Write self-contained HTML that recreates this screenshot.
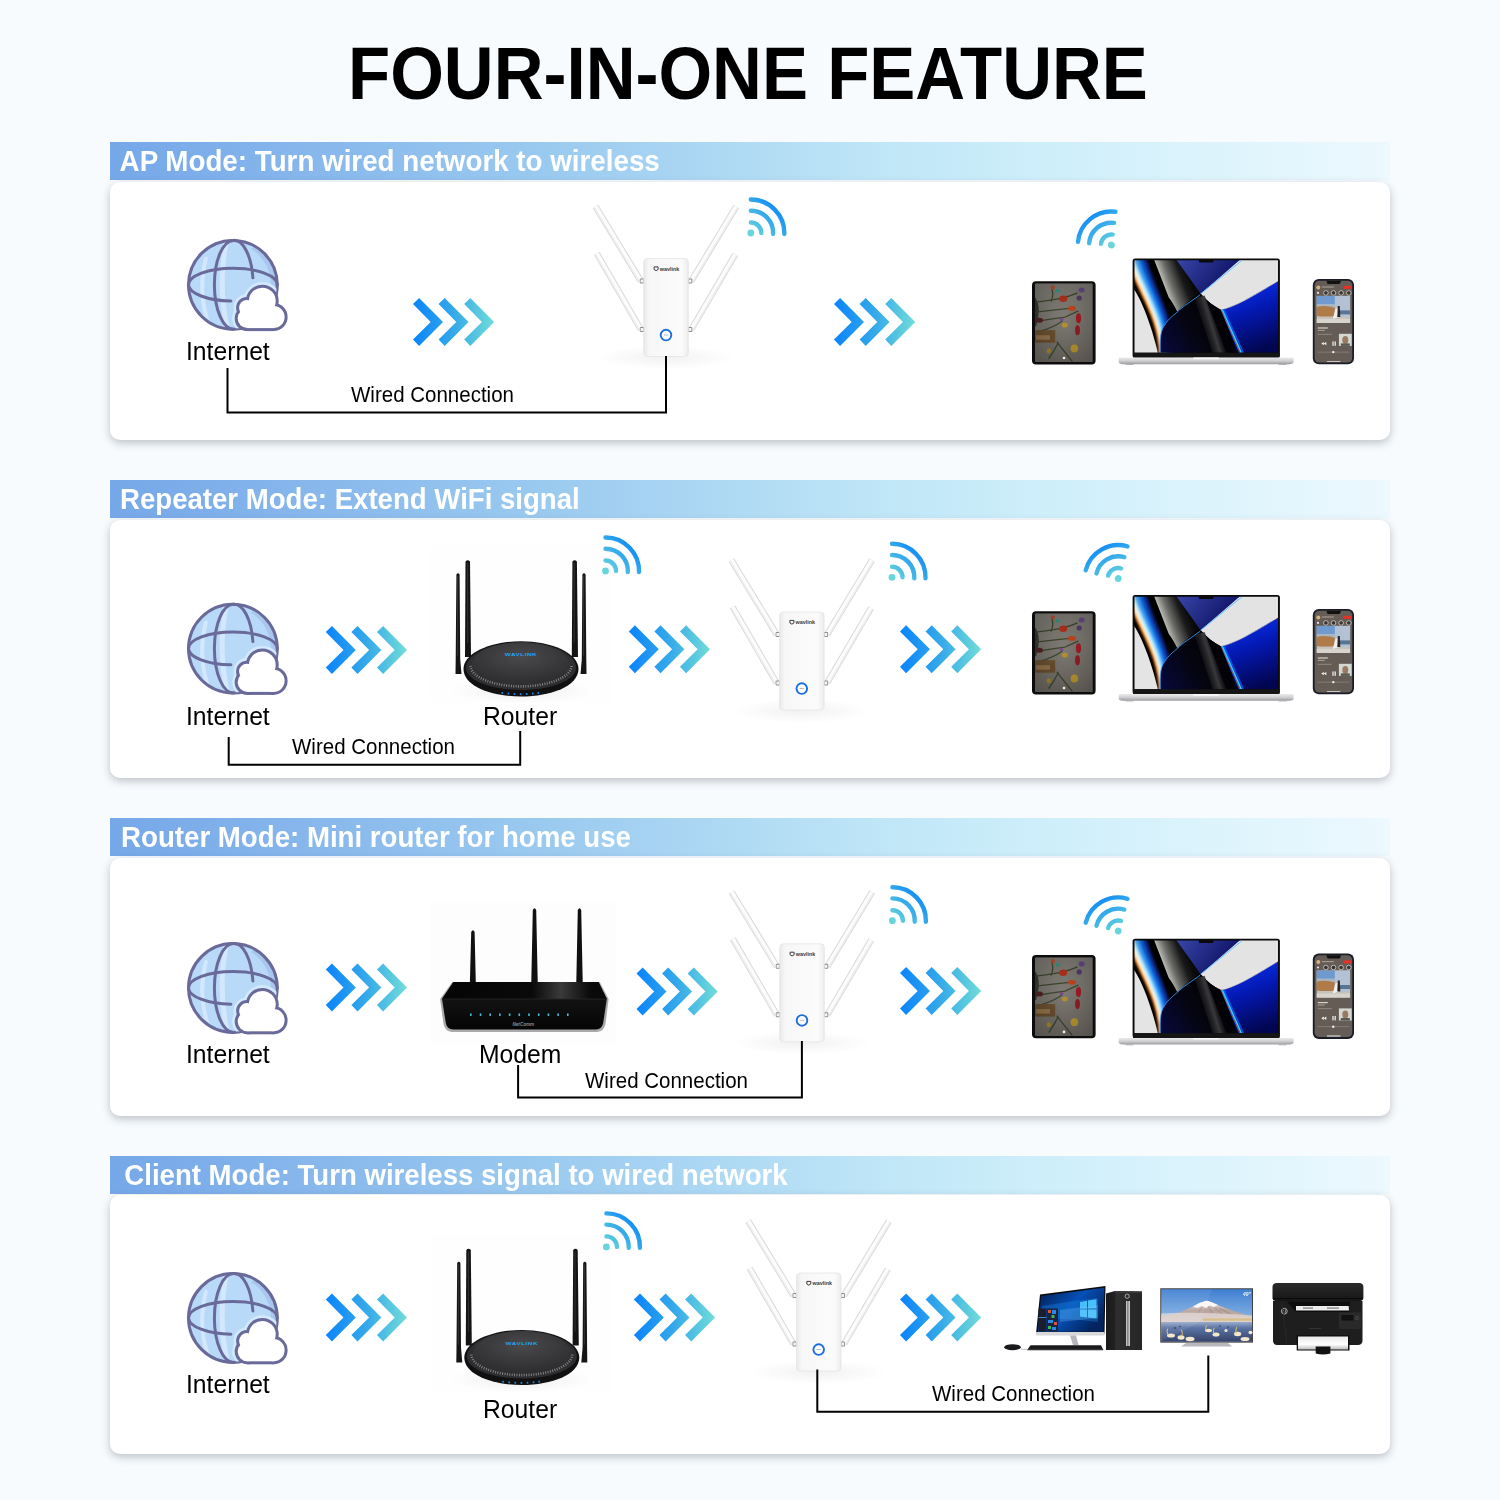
<!DOCTYPE html>
<html><head><meta charset="utf-8">
<style>
html,body{margin:0;padding:0;}
body{width:1500px;height:1500px;position:relative;overflow:hidden;background:#f7fbfe;font-family:"Liberation Sans",sans-serif;}
.t{position:absolute;white-space:nowrap;line-height:1;transform-origin:0 0;}
.title{font-size:69px;font-weight:bold;color:#000;left:348px;top:37px;transform:scaleY(1.068);}
.bar{position:absolute;left:110px;width:1280px;height:38px;background:linear-gradient(90deg,#76a7e8 0%,#9ccbf0 35%,#bfe6f7 60%,#cdeefa 72%,#ecf9fe 100%);}
.card{position:absolute;left:110px;width:1280px;height:258px;background:#fff;border-radius:10px;box-shadow:0 3px 8px rgba(55,62,70,0.3);}
.hd{font-size:27.75px;font-weight:bold;color:#fff;transform:scaleY(1.05);}
.lb{font-size:24.7px;color:#000;transform:scaleY(1.04);}
.wc{font-size:20.5px;color:#000;transform:scaleY(1.04);}
svg{position:absolute;left:0;top:0;}
</style></head>
<body>
<div class="t title">FOUR-IN-ONE FEATURE</div>

<div class="bar" style="top:142px"></div>
<div class="card" style="top:182px"></div>
<div class="bar" style="top:480px"></div>
<div class="card" style="top:520px"></div>
<div class="bar" style="top:818px"></div>
<div class="card" style="top:858px"></div>
<div class="bar" style="top:1156px"></div>
<div class="card" style="top:1195px;height:259px"></div>

<svg width="1500" height="1500" viewBox="0 0 1500 1500">
<defs>
  <linearGradient id="chev" gradientUnits="userSpaceOnUse" x1="0" y1="0" x2="81" y2="0">
    <stop offset="0" stop-color="#0a84fb"/><stop offset="0.5" stop-color="#35a9ea"/><stop offset="1" stop-color="#70dcd8"/>
  </linearGradient>
  <linearGradient id="wifiR" gradientUnits="userSpaceOnUse" x1="0" y1="0" x2="28" y2="-28">
    <stop offset="0" stop-color="#6cd8da"/><stop offset="1" stop-color="#0a86f8"/>
  </linearGradient>
  <symbol id="chevs" viewBox="0 0 82 48" overflow="visible">
    <g fill="url(#chev)">
      <path d="M0 6.1 L6.1 0 L30 24 L6.1 48 L0 41.5 L17.7 24 Z"/>
      <path d="M25.6 6.1 L31.7 0 L55.6 24 L31.7 48 L25.6 41.5 L43.3 24 Z"/>
      <path d="M51.2 6.1 L57.3 0 L81.2 24 L57.3 48 L51.2 41.5 L68.9 24 Z"/>
    </g>
  </symbol>
  <g id="wifi">
    <g fill="none" stroke="url(#wifiR)" stroke-width="4.4" stroke-linecap="round">
      <path d="M0 -10.5 A10.5 10.5 0 0 1 10.5 0"/>
      <path d="M0 -22.3 A22.3 22.3 0 0 1 22.3 1"/>
      <path d="M0 -33.5 A33.5 33.5 0 0 1 33.5 1"/>
    </g>
    <circle cx="0" cy="0" r="3.4" fill="#68d4dc"/>
  </g>
  <clipPath id="globeClip"><circle cx="232.9" cy="284.8" r="44"/></clipPath>
  <g id="globe">
    <circle cx="0" cy="0" r="44.4" fill="#b9d9f8"/>
    <g fill="none" stroke="#d3e8fc" stroke-linecap="round">
      <path d="M-27 -26 Q-35 4 -26 34" stroke-width="4"/>
      <path d="M-7 -41 Q-15 0 -6 42" stroke-width="5"/>
    </g>
    <path d="M22 -38.5 A44.4 44.4 0 0 1 44.4 2 L38 2 A40 42 0 0 0 18 -36Z" fill="#a9c7ee"/>
    <g fill="none" stroke="#6a6a9a" stroke-width="3" stroke-linecap="round">
      <circle cx="0" cy="0" r="44.4"/>
      <path d="M-44.4 0 A44.4 16.5 0 0 1 44.4 0"/>
      <path d="M-44.4 0 A44.4 16.5 0 0 0 -2 16.2"/>
      <path d="M0.5 -44.4 A19 44.4 0 0 0 0.5 44.4"/>
      <path d="M0.5 -44.4 A19 44.4 0 0 1 20 -7"/>
    </g>
    <g transform="translate(-232.9,-284.8)">
      <g fill="#d3eafd" clip-path="url(#globeClip)">
        <circle cx="262.3" cy="301.1" r="19"/><circle cx="246.9" cy="307.7" r="13.4"/><circle cx="247.4" cy="318.4" r="15.2"/><circle cx="273.5" cy="317" r="16.6"/><rect x="247" y="305" width="27" height="28.6"/>
      </g>
      <g fill="#6a6a9a">
        <circle cx="262.3" cy="301.1" r="16.4"/><circle cx="246.9" cy="307.7" r="10.8"/><circle cx="247.4" cy="318.4" r="12.7"/><circle cx="273.5" cy="317" r="14.1"/><rect x="247" y="305" width="27" height="26.1"/>
      </g>
      <g fill="#fff">
        <circle cx="262.3" cy="301.1" r="13.4"/><circle cx="246.9" cy="307.7" r="7.8"/><circle cx="247.4" cy="318.4" r="9.7"/><circle cx="273.5" cy="317" r="11.1"/><rect x="247" y="305" width="27" height="23.1"/>
      </g>
    </g>
  </g>
  <!-- ===== EXTENDER (origin = body top-left) ===== -->
  <linearGradient id="extBody" x1="0" y1="0" x2="1" y2="0">
    <stop offset="0" stop-color="#e9e9ea"/><stop offset="0.12" stop-color="#f7f7f8"/><stop offset="0.85" stop-color="#fbfbfb"/><stop offset="1" stop-color="#ececed"/>
  </linearGradient>
  <radialGradient id="softShadow" cx="0.5" cy="0.5" r="0.5">
    <stop offset="0" stop-color="#000" stop-opacity="0.09"/><stop offset="1" stop-color="#000" stop-opacity="0"/>
  </radialGradient>
  <g id="ext">
    <ellipse cx="22" cy="99" rx="70" ry="12" fill="url(#softShadow)" opacity="0.6"/>
    <g stroke-linecap="butt" fill="none">
      <g stroke="#d9d9db" stroke-width="6.4">
        <path d="M-48.3 -52 L-3 22.5"/><path d="M-47 -5 L-3 71"/>
        <path d="M92.5 -52 L47.5 22.5"/><path d="M91.5 -4 L47.5 71"/>
      </g>
      <g stroke="#fcfcfc" stroke-width="4.4">
        <path d="M-48.3 -52 L-3 22.5"/><path d="M-47 -5 L-3 71"/>
        <path d="M92.5 -52 L47.5 22.5"/><path d="M91.5 -4 L47.5 71"/>
      </g>
      <g stroke="#ececee" stroke-width="1.3">
        <path d="M-49.6 -51 L-4.6 23"/><path d="M-48.3 -4 L-4.6 71.5"/>
        <path d="M93.8 -51 L49.1 23"/><path d="M92.8 -3 L49.1 71.5"/>
      </g>
    </g>
    <g fill="#8e8e90">
      <rect x="-4" y="20" width="4.5" height="5" rx="1"/><rect x="-4" y="68.5" width="4.5" height="5" rx="1"/>
      <rect x="44" y="20" width="4.5" height="5" rx="1"/><rect x="44" y="68.5" width="4.5" height="5" rx="1"/>
    </g>
    <g fill="#f4f4f4">
      <rect x="-3.2" y="21" width="2.6" height="3"/><rect x="-3.2" y="69.5" width="2.6" height="3"/>
      <rect x="45" y="21" width="2.6" height="3"/><rect x="45" y="69.5" width="2.6" height="3"/>
    </g>
    <rect x="0" y="0" width="44.5" height="98" rx="3.5" fill="url(#extBody)" stroke="#e4e4e6" stroke-width="0.8"/>
    <circle cx="22.2" cy="76.6" r="5.3" fill="#fff" stroke="#1b6ee2" stroke-width="1.9"/>
    <rect x="20" y="76" width="4.4" height="1" fill="#b8b8bc"/>
    <path d="M10.3 8.4 L14.3 8.4 L14.3 11 Q12.3 13.3 10.3 11 Z" fill="none" stroke="#3a3a3a" stroke-width="1"/>
    <text x="16" y="12" font-family="Liberation Sans" font-weight="bold" font-size="5.4" fill="#3a3a3a">wavlink</text>
  </g>

  <!-- ===== ROUND ROUTER (origin = dome top-center) ===== -->
  <linearGradient id="antBlack" x1="0" y1="0" x2="1" y2="0">
    <stop offset="0" stop-color="#0e0e0e"/><stop offset="0.45" stop-color="#2c2c2c"/><stop offset="1" stop-color="#0b0b0b"/>
  </linearGradient>
  <radialGradient id="domeTop" cx="0.5" cy="0.35" r="0.6">
    <stop offset="0" stop-color="#4a4a4c"/><stop offset="1" stop-color="#303032"/>
  </radialGradient>
  <g id="router">
    <rect x="-91" y="-95" width="181" height="157" fill="#f5f5f5" opacity="0.15"/>
    <ellipse cx="0" cy="50" rx="72" ry="13" fill="url(#softShadow)" opacity="0.7"/>
    <g fill="#141414">
      <path d="M-56 16 L-55.5 -79.5 Q-53.3 -82 -51 -79.5 L-50 16Z"/>
      <path d="M50.8 16 L51.4 -79.5 Q53.6 -82 55.9 -79.5 L57 16Z"/>
    </g>
    <path d="M-57.5 28 C-57.5 12 -30 0.3 0 0.3 C30 0.3 57.5 12 57.5 28 C57.5 45 30 55.5 0 55.5 C-30 55.5 -57.5 45 -57.5 28Z" fill="#111112"/>
    <path d="M-55 27 C-55 12 -28 1.2 0 1.2 C28 1.2 55 12 55 27 C55 40 28 49 0 49 C-28 49 -55 40 -55 27Z" fill="#2e2e30"/>
    <path d="M-49 24 C-49 11 -26 1.5 0 1.5 C26 1.5 49 11 49 24 C49 35 26 42.5 0 42.5 C-26 42.5 -49 35 -49 24Z" fill="url(#domeTop)"/>
    <path d="M-50.5 25 C-50 37 -26 45.5 0 45.5 C26 45.5 50 37 50.5 25" fill="none" stroke="#8a8a8c" stroke-width="2.6" stroke-dasharray="0.9 1.5"/>
    <text x="0" y="0" text-anchor="middle" font-family="Liberation Sans" font-weight="bold" font-size="6.4" letter-spacing="0.5" fill="#1fa2f4" transform="translate(0,15.2) scale(1,0.5)">WAVLINK</text>
    <g fill="#1b8ff5">
      <rect x="-19.5" y="51.2" width="1.6" height="1.8"/><rect x="-13.4" y="51.8" width="1.6" height="1.8"/><rect x="-7.3" y="52.2" width="1.6" height="1.8"/><rect x="-1.2" y="52.4" width="1.6" height="1.8"/><rect x="4.9" y="52.2" width="1.6" height="1.8"/><rect x="11" y="51.8" width="1.6" height="1.8"/><rect x="16.5" y="51.2" width="1.6" height="1.8"/>
    </g>
    <g fill="#151515">
      <path d="M-65.5 33 L-65.3 18 L-64.6 -66.5 Q-63 -69 -61.4 -66.5 L-60.8 18 L-59.5 33Z"/>
      <path d="M59.5 33 L60.8 18 L61.4 -66.5 Q63 -69 64.6 -66.5 L65.3 18 L65.5 33Z"/>
    </g>
    <g fill="#2e2e2e">
      <rect x="-64" y="-65" width="1.2" height="80"/><rect x="62" y="-65" width="1.2" height="80"/>
      <rect x="-54" y="-78" width="1.2" height="80"/><rect x="52.6" y="-78" width="1.2" height="80"/>
    </g>
  </g>

  <!-- ===== MODEM (absolute coords section 3) ===== -->
  <linearGradient id="modemFront" x1="0" y1="0" x2="0" y2="1">
    <stop offset="0" stop-color="#1a1a1a"/><stop offset="1" stop-color="#050505"/>
  </linearGradient>
  <linearGradient id="modemTop" x1="0" y1="0" x2="1" y2="0">
    <stop offset="0" stop-color="#050505"/><stop offset="0.55" stop-color="#0a0a0a"/><stop offset="0.72" stop-color="#3a3a3a"/><stop offset="0.9" stop-color="#0a0a0a"/>
  </linearGradient>
  <g id="modem">
    <rect x="430" y="903" width="186" height="140" fill="#f5f5f5" opacity="0.2"/>
    <g fill="#101010">
      <path d="M469.9 982 L471.2 932 Q473 928.5 474.6 932 L475.8 982Z"/>
      <path d="M531.3 982 L532.8 910 Q534.5 906.5 536.2 910 L537.7 982Z"/>
      <path d="M576.3 982 L577.8 910 Q579.5 906.5 581.2 910 L582.7 982Z"/>
    </g>
    <path d="M452.2 982 L599.7 982 L608.6 999 L605.5 1024 Q604 1031.5 597 1032 L452 1032 Q445 1031.5 443.5 1024 L440.1 999 Z" fill="#a9a9ab"/>
    <path d="M453.5 982 L598.5 982 L606.8 999 L603.2 1023 Q602 1029 596 1029.5 L453 1029.5 Q447 1029 445.8 1023 L442 999 Z" fill="url(#modemFront)"/>
    <path d="M453.5 982 L598.5 982 L606.8 999 L442 999 Z" fill="url(#modemTop)"/>
    <path d="M442 999 L606.8 999" stroke="#2a2a2a" stroke-width="0.8"/>
    <g fill="#44c6e6">
      <rect x="470" y="1013.5" width="1.6" height="2.4"/><rect x="479.7" y="1013.5" width="1.6" height="2.4"/><rect x="489.4" y="1013.5" width="1.6" height="2.4"/><rect x="499.1" y="1013.5" width="1.6" height="2.4"/><rect x="508.8" y="1013.5" width="1.6" height="2.4"/><rect x="518.5" y="1013.5" width="1.6" height="2.4"/><rect x="528.2" y="1013.5" width="1.6" height="2.4"/><rect x="537.9" y="1013.5" width="1.6" height="2.4"/><rect x="547.6" y="1013.5" width="1.6" height="2.4"/><rect x="557.3" y="1013.5" width="1.6" height="2.4"/><rect x="567" y="1013.5" width="1.6" height="2.4"/>
    </g>
    <text x="512.5" y="1026" font-family="Liberation Sans" font-weight="bold" font-style="italic" font-size="4.6" fill="#8a8a8a">NetComm</text>
  </g>
  <!-- ===== TABLET (origin top-left, 64x83) ===== -->
  <linearGradient id="tabScr" x1="0" y1="0" x2="0" y2="1">
    <stop offset="0" stop-color="#86837c"/><stop offset="0.5" stop-color="#7e7a73"/><stop offset="1" stop-color="#77736c"/>
  </linearGradient>
  <radialGradient id="tabVig" cx="0.5" cy="0.45" r="0.7">
    <stop offset="0" stop-color="#000" stop-opacity="0"/><stop offset="1" stop-color="#000" stop-opacity="0.28"/>
  </radialGradient>
  <filter id="tabBlur" x="-10%" y="-10%" width="120%" height="120%"><feGaussianBlur stdDeviation="0.45"/></filter>
  <g id="tablet">
    <rect x="0" y="0" width="63.6" height="83.2" rx="4" fill="#0c0c0c"/>
    <rect x="3" y="2.4" width="57.6" height="78.4" rx="1" fill="url(#tabScr)"/>
    <g filter="url(#tabBlur)">
      <path d="M3 16 Q10 26 4 45 L3 45Z" fill="#3a3a34"/>
      <g stroke-linecap="round" fill="none" stroke-width="1.3" stroke="#3f4a30">
        <path d="M4 21 Q20 19 30 17 Q38 15 45 12"/>
        <path d="M4 31 Q20 29 40 27"/>
        <path d="M6 40 Q18 38 33 36 L46 30"/>
        <path d="M20 8 Q22 14 19 20"/>
        <path d="M25 61 Q32 70 40 80"/>
        <path d="M26 62 Q22 70 17 77"/>
        <path d="M8 50 Q22 46 30 40"/>
      </g>
      <ellipse cx="20.8" cy="6.4" rx="2" ry="2.4" fill="#c0502a"/>
      <ellipse cx="25.6" cy="9.6" rx="2.4" ry="1.8" fill="#2aa08a"/>
      <ellipse cx="31.2" cy="17.6" rx="4" ry="3.2" fill="#b8321e"/>
      <ellipse cx="49.6" cy="8.8" rx="3" ry="2.6" fill="#6e4e8e"/>
      <ellipse cx="47.2" cy="16.8" rx="2.6" ry="2.6" fill="#5a3e70"/>
      <ellipse cx="40" cy="27.2" rx="4" ry="2.4" fill="#c8461c"/>
      <ellipse cx="46.5" cy="37" rx="2.6" ry="5" fill="#a81c28"/>
      <ellipse cx="45.5" cy="49" rx="2.4" ry="5" fill="#9a1a26"/>
      <ellipse cx="29.6" cy="38.4" rx="2" ry="1.6" fill="#7a4a90"/>
      <ellipse cx="32.8" cy="44" rx="3" ry="2.4" fill="#b89230"/>
      <ellipse cx="7.5" cy="39" rx="3.5" ry="2.5" fill="#5a2222"/>
      <rect x="3.2" y="49" width="20" height="12.5" fill="#6e5230"/>
      <rect x="4" y="54" width="14" height="4.5" fill="#9a7850"/>
      <ellipse cx="42.4" cy="67.2" rx="3.8" ry="4" fill="#c8a030"/>
      <ellipse cx="16.8" cy="69.6" rx="2.2" ry="2.6" fill="#b09028"/>
    </g>
    <rect x="3" y="2.4" width="57.6" height="78.4" rx="1" fill="url(#tabVig)"/>
    <circle cx="32" cy="76.8" r="1.3" fill="#f2f2f2"/>
  </g>

  <!-- ===== LAPTOP (origin screen top-left) ===== -->
  <linearGradient id="lpTopBlue" x1="0" y1="0" x2="1" y2="0.4">
    <stop offset="0" stop-color="#3848a8"/><stop offset="1" stop-color="#0d0f62"/>
  </linearGradient>
  <linearGradient id="lpWedge" gradientUnits="userSpaceOnUse" x1="22" y1="8" x2="48" y2="-2">
    <stop offset="0" stop-color="#d0d0c8"/><stop offset="0.35" stop-color="#6a6a66"/><stop offset="0.75" stop-color="#1a1a1a"/><stop offset="1" stop-color="#0a0a0a"/>
  </linearGradient>
  <linearGradient id="lpBR" x1="0" y1="0" x2="0.3" y2="1">
    <stop offset="0" stop-color="#0a38ff"/><stop offset="0.5" stop-color="#0418b0"/><stop offset="1" stop-color="#020650"/>
  </linearGradient>
  <linearGradient id="lpCenter" gradientUnits="userSpaceOnUse" x1="30" y1="90" x2="100" y2="50">
    <stop offset="0" stop-color="#07083a"/><stop offset="0.45" stop-color="#050510"/><stop offset="1" stop-color="#000"/>
  </linearGradient>
  <linearGradient id="lpRidge" gradientUnits="userSpaceOnUse" x1="60" y1="60" x2="86" y2="52">
    <stop offset="0" stop-color="#000" stop-opacity="0"/><stop offset="0.6" stop-color="#3a3a3c"/><stop offset="1" stop-color="#000" stop-opacity="0"/>
  </linearGradient>
  <linearGradient id="lpBase" x1="0" y1="0" x2="0" y2="1">
    <stop offset="0" stop-color="#ececed"/><stop offset="0.5" stop-color="#cfcfd2"/><stop offset="1" stop-color="#9c9ca0"/>
  </linearGradient>
  <filter id="lpBlur" x="-20%" y="-20%" width="140%" height="140%"><feGaussianBlur stdDeviation="0.9"/></filter>
  <clipPath id="lpClip"><rect x="1.9" y="1.76" width="143.5" height="92.6"/></clipPath>
  <g id="laptop">
    <rect x="0" y="0" width="147.3" height="99.3" rx="2.5" fill="#0a0a0a"/>
    <g clip-path="url(#lpClip)">
      <rect x="0" y="0" width="150" height="100" fill="#000"/>
      <g fill="none" filter="url(#lpBlur)">
        <path d="M-6.0 -2.1 C2.9 30.5 28.2 58.1 27.2 100" stroke="#e8701e" stroke-width="2.4"/>
        <path d="M-4.4 -2.1 C4.5 30.5 29.7 58.1 28.4 100" stroke="#ffc860" stroke-width="2.4"/>
        <path d="M-2.6 -2.1 C6.3 30.5 31.2 58.1 29.6 100" stroke="#fff8ea" stroke-width="2.6"/>
        <path d="M0.0 -2.1 C8.9 30.5 33.2 58.1 31.2 100" stroke="#a8eaff" stroke-width="3"/>
        <path d="M4.0 -2.1 C12.4 30.5 36.2 58.1 33.7 100" stroke="#2e9cff" stroke-width="3.6"/>
        <path d="M8.0 -2.1 C15.9 30.5 39.2 58.1 36.2 100" stroke="#0a58d0" stroke-width="3.6"/>
        <path d="M12.0 -2.1 C19.4 30.5 42.2 58.1 38.7 100" stroke="#08207a" stroke-width="3.4"/>
      </g>
      <path d="M42.5 0 L109 0 L109 2.1 L68.1 35.4 L66.7 33.7 Z" fill="url(#lpTopBlue)"/>
      <path d="M21 0 L42.5 0 L66.7 33.7 L44.6 53.1 Q40 44 36.2 39.2 Q28 18 21 0Z" fill="url(#lpWedge)"/>
      <path d="M109 0 L150 0 L150 22.5 L145.4 22.5 C122.8 36.4 102 48.9 88.2 51.3 C81.3 48.2 74.3 42.6 68.1 35.4 Z" fill="#e3e3e4"/>
      <path d="M109.5 1.8 L67.8 35.6" stroke="#5cc4ff" stroke-width="1"/>
      <path d="M88.2 51.3 C102 48.9 122.8 36.4 145.4 22.5 L150 22.5 L150 100 L106.9 100 Z" fill="url(#lpBR)"/>
      <path d="M145.4 22.5 C122.8 36.4 102 48.9 88.2 51.3" fill="none" stroke="#fff0d8" stroke-width="0.6"/>
      <path d="M67.4 36.4 C60 42 50 48 44.6 53.8 C38 59 34 63 32 66.9 C28 72 27 80 27.9 100 L106.9 100 L88.2 51.3 C81.3 48.2 74.3 42.6 68.1 35.4 Z" fill="url(#lpCenter)"/>
      <path d="M62 40 L72 37 L96 100 L82 100 Z" fill="url(#lpRidge)"/>
      <path d="M88.6 51.5 L107.5 95" stroke="#e89a50" stroke-width="0.6"/>
      <path d="M89.8 51.3 L109 95" stroke="#38c8ff" stroke-width="1.6"/>
      <path d="M91.5 51.5 L111 95" stroke="#0a6aff" stroke-width="1.6" opacity="0.7"/>
      <path d="M67.4 36.4 C60 42 50 48 44.6 53.8 C38 59 34 63 32 66.9 C28 72 27 80 27.9 100" fill="none" stroke="#3a94f4" stroke-width="0.9"/>
      <path d="M0 31.6 L1.9 31.6 C10 44 20 70 26.5 100 L0 100 Z" fill="#e4e4e5"/>
    </g>
    <rect x="66.3" y="1" width="14.6" height="3.2" rx="1" fill="#0a0a0a"/>
    <rect x="0.5" y="94.3" width="146.3" height="5" fill="#151515"/>
    <path d="M-13.9 99.2 L161 99.2 L161 103.5 Q160.5 105.6 157 105.8 L-10 105.8 Q-13.4 105.6 -13.9 103.5Z" fill="url(#lpBase)"/>
    <rect x="60.5" y="99.2" width="26" height="1.6" rx="0.8" fill="#f8f8f8"/>
    <rect x="-7" y="105.6" width="8" height="0.9" fill="#aaa"/><rect x="146" y="105.6" width="8" height="0.9" fill="#aaa"/>
  </g>

  <!-- ===== PHONE (origin top-left 41.2x85.4) ===== -->
  <linearGradient id="phPhoto" x1="0" y1="0" x2="0" y2="1">
    <stop offset="0" stop-color="#7ea2cc"/><stop offset="0.35" stop-color="#b8a48a"/><stop offset="0.6" stop-color="#b07848"/><stop offset="1" stop-color="#c9c9c4"/>
  </linearGradient>
  <g id="phone">
    <rect x="0" y="0" width="41.2" height="85.4" rx="6" fill="#1a1d28"/>
    <rect x="1.8" y="1.8" width="37.6" height="81.8" rx="4.6" fill="#655c56"/>
    <path d="M13.7 1.8 L28.1 1.8 L27.6 4 Q27 5 26 5 L15.8 5 Q14.8 5 14.2 4 Z" fill="#111"/>
    <circle cx="5.5" cy="8.5" r="2" fill="#d8b080"/>
    <rect x="30.5" y="6.8" width="8" height="3.2" rx="1.6" fill="#e8302a"/>
    <rect x="9" y="7.5" width="12" height="1.2" fill="#a09890"/>
    <circle cx="5.2" cy="14" r="1.1" fill="#e8e4e0"/>
    <g fill="#3a3430" stroke="#e8e4e0" stroke-width="0.7">
      <circle cx="13.1" cy="14" r="2.3"/><circle cx="20.7" cy="14" r="2.3"/><circle cx="28.3" cy="14" r="2.3"/><circle cx="36" cy="14" r="2.3"/>
    </g>
    <rect x="3.9" y="17" width="33.4" height="27.1" fill="#c4c2ba"/>
    <g filter="url(#tabBlur)">
    <rect x="3.9" y="17" width="20" height="9" fill="#6e9ad0"/>
    <rect x="3.9" y="25" width="20" height="4" fill="#a8b4c0"/>
    <path d="M3.9 28 Q12 26 23 29 L23 37 Q12 38 3.9 37Z" fill="#b07a4a"/>
    <rect x="22" y="17" width="15.3" height="21" fill="#b2c2d4"/>
    <rect x="23" y="31.5" width="14.3" height="4" fill="#5a7494"/>
    <path d="M22.5 30 L25.5 29 L26 38 L20 40 Z" fill="#f0f0f0"/>
    <path d="M25 27 L27 27 L27.5 38 L24.5 38Z" fill="#2a2420"/>
    <rect x="3.9" y="40" width="33.4" height="4.1" fill="#d6d4cc"/>
    </g>
    <rect x="5" y="48.5" width="10" height="1.2" fill="#d8d2cc"/>
    <rect x="5" y="51" width="7" height="1" fill="#a9a29b"/>
    <rect x="5" y="55" width="14" height="0.6" fill="#a9a29b"/>
    <rect x="26.1" y="54.9" width="12.8" height="12.1" fill="#d4d8d0"/>
    <ellipse cx="32.5" cy="61" rx="3" ry="4" fill="#9a7a62"/>
    <rect x="28" y="64.5" width="9" height="2.5" fill="#5a5a52"/>
    <g fill="#f4f4f4">
      <path d="M8.5 64.7 L11 63 L11 66.4Z"/><path d="M11 64.7 L13.5 63 L13.5 66.4Z"/>
      <rect x="19.6" y="62.5" width="1.2" height="4.4"/><rect x="21.8" y="62.5" width="1.2" height="4.4"/>
    </g>
    <rect x="4.5" y="72.8" width="32" height="0.8" fill="#8a837c"/>
    <circle cx="20.5" cy="73.2" r="1.2" fill="#f0f0f0"/>
    <rect x="14" y="82" width="13.8" height="0.9" rx="0.45" fill="#eaeaea"/>
  </g>
  <!-- ===== DESKTOP PC ===== -->
  <linearGradient id="winScr" x1="0" y1="0" x2="1" y2="0.6">
    <stop offset="0" stop-color="#031a4a"/><stop offset="0.55" stop-color="#0650b8"/><stop offset="1" stop-color="#03245e"/>
  </linearGradient>
  <linearGradient id="tower" x1="0" y1="0" x2="1" y2="0">
    <stop offset="0" stop-color="#1a1a1a"/><stop offset="0.25" stop-color="#222"/><stop offset="0.27" stop-color="#2e2e2e"/><stop offset="1" stop-color="#262626"/>
  </linearGradient>
  <g id="desktop">
    <path d="M1040 1294.5 L1105.5 1286 L1104.5 1334 L1036 1334 Z" fill="#0c0c0e"/>
    <path d="M1041 1296 L1104.3 1287.8 L1103.4 1331.8 L1037.8 1331.8 Z" fill="url(#winScr)"/>
    <path d="M1042 1306 L1080 1300 L1098 1298 L1098 1322 L1080 1320 L1042 1318Z" fill="#1a8ae8" opacity="0.35"/>
    <g fill="#4cc4ff" opacity="0.95">
      <path d="M1080 1302 L1087 1300.8 L1087 1308.5 L1080 1308.8Z"/>
      <path d="M1088 1300.6 L1096.5 1299.3 L1096.5 1308.3 L1088 1308.5Z"/>
      <path d="M1080 1309.6 L1087 1309.5 L1087 1317.5 L1080 1316.6Z"/>
      <path d="M1088 1309.5 L1096.5 1309.4 L1096.5 1318.5 L1088 1317.6Z"/>
    </g>
    <path d="M1060 1310 L1098 1305 L1098 1318 L1060 1322Z" fill="#7ad0ff" opacity="0.25"/>
    <rect x="1038.5" y="1308.5" width="8" height="23" fill="#1a1e2e"/>
    <rect x="1047" y="1308.5" width="11" height="23" fill="#1c2440"/>
    <g fill="#e0553a"><rect x="1048" y="1310" width="3" height="3"/><rect x="1054" y="1322" width="3" height="3"/></g>
    <g fill="#3ab85a"><rect x="1051.5" y="1315" width="3" height="3"/><rect x="1048" y="1326" width="3" height="3"/></g>
    <g fill="#2a8ae8"><rect x="1052" y="1310" width="4" height="4"/><rect x="1048" y="1320" width="5" height="3"/><rect x="1052" y="1327" width="4" height="3"/></g>
    <rect x="1038.5" y="1317" width="8" height="1" fill="#3a8ad8"/>
    <path d="M1036 1332 L1104.6 1332 L1104.5 1335.5 L1036.3 1335.5Z" fill="#d8d8da"/>
    <path d="M1070 1335.5 L1076 1335.5 L1078.5 1345 L1073 1345Z" fill="#b8b8bc"/>
    <path d="M1030.5 1345.3 L1101 1345.3 L1103.5 1350.3 L1027 1350.3Z" fill="#1a1a1c"/>
    <path d="M1028 1349.3 L1103 1349.3" stroke="#555" stroke-width="0.6"/>
    <ellipse cx="1012.5" cy="1347.2" rx="8.3" ry="3" fill="#1a1a1c"/>
    <path d="M1021 1349.3 L1027 1349.3" stroke="#888" stroke-width="0.5"/>
    <!-- tower -->
    <path d="M1106 1293.5 L1115 1291 L1142 1291.5 L1142 1350 L1106 1350Z" fill="url(#tower)"/>
    <path d="M1115 1291 L1142 1291.5 L1142 1293 L1115 1293Z" fill="#3a3a3a"/>
    <rect x="1126" y="1301" width="4" height="45" fill="#c4c4c8"/>
    <rect x="1127" y="1301" width="1.6" height="45" fill="#8a8a8e"/>
    <circle cx="1127.2" cy="1296.2" r="2.1" fill="none" stroke="#ddd" stroke-width="0.7"/>
  </g>

  <!-- ===== TV ===== -->
  <linearGradient id="tvSky" x1="0" y1="0" x2="0" y2="1">
    <stop offset="0" stop-color="#3f7fd2"/><stop offset="0.6" stop-color="#8ab6e4"/><stop offset="1" stop-color="#b8cfe8"/>
  </linearGradient>
  <linearGradient id="tvWater" x1="0" y1="0" x2="0" y2="1">
    <stop offset="0" stop-color="#9aaccc"/><stop offset="0.3" stop-color="#5a74a4"/><stop offset="1" stop-color="#34426a"/>
  </linearGradient>
  <linearGradient id="tvMtn" x1="0" y1="0" x2="0" y2="1">
    <stop offset="0" stop-color="#eee4e4"/><stop offset="0.45" stop-color="#b8a29c"/><stop offset="1" stop-color="#c8b8b4"/>
  </linearGradient>
  <g id="tv">
    <rect x="1160.3" y="1288.3" width="92.7" height="54.3" fill="#3a3530"/>
    <rect x="1161.2" y="1289.2" width="90.9" height="52.5" fill="url(#tvSky)"/>
    <g filter="url(#tabBlur)">
      <path d="M1172 1315 Q1186 1310 1196 1305 Q1202 1301.5 1206.8 1300.8 Q1212 1302 1220 1306 Q1235 1312 1252 1316.4 L1252 1322 L1161.2 1322 L1161.2 1316Z" fill="url(#tvMtn)"/>
      <path d="M1193 1306.5 Q1200 1302 1206.8 1300.8 Q1212 1302 1218 1305 L1214 1307 L1210 1305.5 L1206 1308 L1202 1306 L1197 1308Z" fill="#fbf6f6"/>
      <g stroke="#8a7874" stroke-width="0.7" fill="none" opacity="0.7">
        <path d="M1208 1306 L1212 1313"/><path d="M1214 1307 L1222 1314"/><path d="M1202 1307 L1198 1313"/><path d="M1219 1308 L1232 1315"/>
      </g>
      <path d="M1161.2 1313.5 Q1200 1311.5 1252 1315.5 L1252 1322.5 L1161.2 1322.5Z" fill="#e6dcd8" opacity="0.7"/>
      <rect x="1203" y="1318.5" width="49" height="2.2" fill="#d8b870" opacity="0.75"/>
      <rect x="1161.2" y="1322" width="90.9" height="19.7" fill="url(#tvWater)"/>
      <g fill="#1e2a44" opacity="0.6">
        <ellipse cx="1175" cy="1328" rx="1.4" ry="0.9"/><ellipse cx="1180" cy="1326.5" rx="1.2" ry="0.8"/><ellipse cx="1220" cy="1326" rx="1.2" ry="0.8"/><ellipse cx="1228" cy="1327" rx="1" ry="0.7"/>
      </g>
      <g fill="#f4e8cc">
        <ellipse cx="1171" cy="1335.5" rx="4" ry="2"/><ellipse cx="1181" cy="1337.5" rx="3.5" ry="2.2"/><ellipse cx="1190" cy="1339" rx="4.5" ry="2.2"/>
        <ellipse cx="1208.5" cy="1330.5" rx="3.5" ry="1.7"/><ellipse cx="1216" cy="1334.5" rx="3.5" ry="2"/><ellipse cx="1237.6" cy="1334" rx="3.6" ry="2.2"/>
        <ellipse cx="1245" cy="1339" rx="4.5" ry="2"/><ellipse cx="1250.5" cy="1332.5" rx="2" ry="1.8"/><ellipse cx="1226" cy="1330.5" rx="1.6" ry="1.5"/>
      </g>
      <g stroke="#e6c26a" stroke-width="1" fill="none" stroke-linecap="round">
        <path d="M1168 1335 Q1166 1331 1167.5 1329"/><path d="M1182 1336 Q1183 1332 1181.5 1330"/><path d="M1206 1330 Q1205 1327 1206.5 1325.5"/><path d="M1213.5 1333.5 Q1213 1330 1214 1328"/><path d="M1236 1333 Q1235.5 1329.5 1236.5 1327.5"/>
      </g>
    </g>
    <path d="M1161.2 1289.2 L1212 1289.2 L1200 1322 L1161.2 1341.7Z" fill="#fff" opacity="0.07"/>
    <text x="1243" y="1296" font-family="Liberation Sans" font-weight="bold" font-style="italic" font-size="5" fill="#fff" opacity="0.9">49"</text>
    <path d="M1181 1346.5 L1186 1343 L1228 1343 L1232 1346.5Z" fill="#b8b8bc"/>
  </g>

  <!-- ===== PRINTER ===== -->
  <linearGradient id="prLid" x1="0" y1="0" x2="0" y2="1">
    <stop offset="0" stop-color="#2a2a2a"/><stop offset="1" stop-color="#161616"/>
  </linearGradient>
  <linearGradient id="prTray" x1="0" y1="0" x2="0" y2="1">
    <stop offset="0" stop-color="#e8e8e8"/><stop offset="0.6" stop-color="#ffffff"/><stop offset="1" stop-color="#bdbdbd"/>
  </linearGradient>
  <g id="printer">
    <path d="M1273 1301 L1362.5 1301 L1362.5 1341 Q1362 1345 1358 1345 L1277 1345 Q1273.5 1345 1273 1341Z" fill="#1e1e1e"/>
    <path d="M1276 1283 L1360 1283 Q1363.4 1283.5 1363.4 1287 L1363.4 1298 Q1363 1301 1360 1301 L1276 1301 Q1272.5 1301 1272.5 1298 L1272.5 1287 Q1272.5 1283.5 1276 1283Z" fill="url(#prLid)"/>
    <path d="M1273 1298.5 L1363 1298.5" stroke="#0a0a0a" stroke-width="1"/>
    <path d="M1287 1301.5 L1350 1301.5 L1349 1312 L1296 1312Z" fill="#0c0c0c"/>
    <path d="M1296 1306 L1348.7 1306 L1349 1310.5 L1296 1310.5Z" fill="#ececec"/>
    <g fill="#555"><rect x="1303" y="1307.6" width="10" height="0.9"/><rect x="1327" y="1307.6" width="12" height="0.9"/></g>
    <rect x="1339" y="1312.5" width="22" height="16.5" rx="1" fill="#2a2a2a"/>
    <rect x="1341.5" y="1315" width="12" height="5.5" fill="#111"/>
    <circle cx="1357" cy="1318" r="1.6" fill="none" stroke="#555" stroke-width="0.6"/>
    <circle cx="1284.3" cy="1311.2" r="2.9" fill="none" stroke="#cfcfcf" stroke-width="0.8"/>
    <path d="M1283.3 1309.6 L1282.8 1313 M1285.6 1309.6 L1285.1 1313" stroke="#cfcfcf" stroke-width="0.6"/>
    <path d="M1282 1303 L1287 1345" stroke="#2c2c2c" stroke-width="0.8"/>
    <rect x="1309" y="1328" width="12" height="0.8" fill="#3a3a3a"/>
    <path d="M1296.7 1335.3 L1349.5 1335.3 L1349.5 1350.5 L1296.7 1350.5Z" fill="#0e0e0e"/>
    <path d="M1298 1336.5 L1348 1336.5 L1348 1349.5 L1298 1349.5Z" fill="url(#prTray)"/>
    <path d="M1315.7 1346.5 L1330.4 1346.5 L1330.4 1353.5 Q1323 1355.5 1315.7 1353.5Z" fill="#111"/>
  </g>
</defs>

<!-- products -->
<use href="#ext" x="643.8" y="258.5"/>
<use href="#ext" x="779.6" y="612"/>
<use href="#ext" x="779.8" y="943.8"/>
<use href="#ext" x="796.5" y="1273"/>
<use href="#router" x="521" y="640.9"/>
<use href="#router" x="521.8" y="1329.6"/>
<use href="#modem"/>
<use href="#tablet" x="1032" y="281.2"/>
<use href="#laptop" x="1132.6" y="258.4"/>
<use href="#phone" x="1312.8" y="278.9"/>
<use href="#tablet" x="1032" y="611.2"/>
<use href="#laptop" x="1132.6" y="594.9"/>
<use href="#phone" x="1312.8" y="608.9"/>
<use href="#tablet" x="1032" y="955.1"/>
<use href="#laptop" x="1132.6" y="938.8"/>
<use href="#phone" x="1312.8" y="953.5"/>
<use href="#desktop"/>
<use href="#tv"/>
<use href="#printer"/>
<!-- globes -->
<use href="#globe" x="232.9" y="284.8"/>
<use href="#globe" x="232.9" y="648.6"/>
<use href="#globe" x="232.9" y="988"/>
<use href="#globe" x="232.9" y="1318"/>

<!-- chevrons -->
<use href="#chevs" x="413" y="298" width="82" height="48"/>
<use href="#chevs" x="834" y="298" width="82" height="48"/>
<use href="#chevs" x="325.8" y="626" width="82" height="48"/>
<use href="#chevs" x="628.8" y="625.3" width="82" height="48"/>
<use href="#chevs" x="900" y="625.3" width="82" height="48"/>
<use href="#chevs" x="325.8" y="963.5" width="82" height="48"/>
<use href="#chevs" x="636.5" y="967.5" width="82" height="48"/>
<use href="#chevs" x="900" y="967" width="82" height="48"/>
<use href="#chevs" x="325.8" y="1293.5" width="82" height="48"/>
<use href="#chevs" x="633.9" y="1293.5" width="82" height="48"/>
<use href="#chevs" x="900" y="1293.5" width="82" height="48"/>

<!-- wifi -->
<use href="#wifi" x="750.8" y="233"/>
<use href="#wifi" transform="translate(1111.4,245) rotate(7) scale(-1,1)"/>
<use href="#wifi" x="605.5" y="571"/>
<use href="#wifi" x="892" y="577.3"/>
<use href="#wifi" transform="translate(1118.2,578.6) rotate(16) scale(-1,1)"/>
<use href="#wifi" x="892.4" y="920.7"/>
<use href="#wifi" transform="translate(1118.2,931) rotate(16) scale(-1,1)"/>
<use href="#wifi" x="606.4" y="1246.9"/>


<!-- wired lines -->
<g fill="none" stroke="#000" stroke-width="2">
  <path d="M227.5 368 V412.5 H666 V356"/>
  <path d="M228.7 737 V764.7 H520.2 V731"/>
  <path d="M518.1 1065 V1097.5 H801.9 V1041"/>
  <path d="M817.3 1369.4 V1411.7 H1208.3 V1355.6"/>
</g>
</svg>
<div class="t hd" style="left:119.6px;top:147px">AP Mode: Turn wired network to wireless</div>
<div class="t hd" style="left:120px;top:485.3px;font-size:27.6px">Repeater Mode: Extend WiFi signal</div>
<div class="t hd" style="left:121.1px;top:823px;font-size:27.65px">Router Mode: Mini router for home use</div>
<div class="t hd" style="left:124.3px;top:1161.2px;font-size:27.6px">Client Mode: Turn wireless signal to wired network</div>

<!-- labels -->
<div class="t lb" style="left:186px;top:339px">Internet</div>
<div class="t lb" style="left:186px;top:704px">Internet</div>
<div class="t lb" style="left:186px;top:1042px">Internet</div>
<div class="t lb" style="left:186px;top:1372px">Internet</div>
<div class="t lb" style="left:483px;top:704px">Router</div>
<div class="t lb" style="left:479px;top:1042px">Modem</div>
<div class="t lb" style="left:483px;top:1397px">Router</div>

<div class="t wc" style="left:351px;top:384px">Wired Connection</div>
<div class="t wc" style="left:292px;top:736px">Wired Connection</div>
<div class="t wc" style="left:585px;top:1070px">Wired Connection</div>
<div class="t wc" style="left:932px;top:1383px">Wired Connection</div>

</body></html>
